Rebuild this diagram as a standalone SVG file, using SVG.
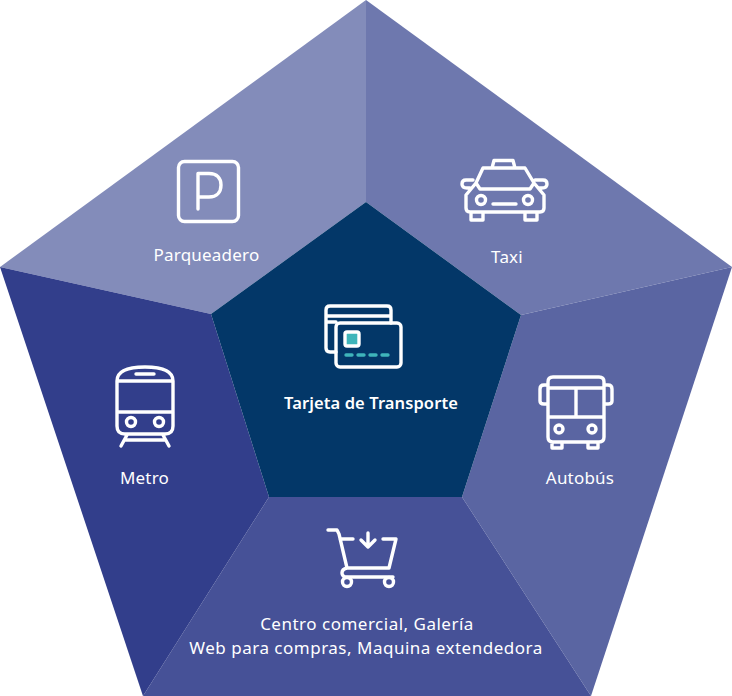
<svg xmlns="http://www.w3.org/2000/svg" width="732" height="696" viewBox="0 0 732 696">
<style>
.l{font-family:"Noto Sans","Liberation Sans",sans-serif;font-size:17px;letter-spacing:.2px;fill:#fff;text-anchor:middle}
.w{letter-spacing:.5px}
.b{font-weight:600;font-size:16.500px;letter-spacing:.1px}
.i{fill:none;stroke:#fff;stroke-width:3.400;stroke-linecap:round;stroke-linejoin:round}
.t{fill:none;stroke:#3fb5ba;stroke-width:3.400;stroke-linecap:round}
</style>
<rect width="732" height="696" fill="#fff"/>
<g id="parqueadero">
<polygon points="366,0 0,267 211,314 366,202" fill="#838cba"/>
<rect class="i" x="178.500" y="161.500" width="60" height="60" rx="6"/>
<path class="i" d="M198 209V173.500H209C217 173.500 221 178 221 185C221 192 217 197 209 197H198"/>
<text class="l" x="206.500" y="261">Parqueadero</text>
</g>
<g id="taxi">
<polygon points="366,0 732,267 521,315 366,202" fill="#6e78ae"/>
<path class="i" d="M492 168L494 160.500H513L515 168M483 168H525L534 183L530 189H480L476 183ZM476 183L466 195V208Q466 212 470 212H540Q544 212 544 208V195L534 183M473 180H466Q462 180 462 184Q462 188 467 188H470M535 180H543Q547 180 547 184Q547 188 542 188H539M493 204H516M471 212V220H483V212M525 212V220H537V212"/>
<circle class="i" cx="481" cy="200" r="4.500"/>
<circle class="i" cx="528" cy="200" r="4.500"/>
<text class="l" x="507" y="263">Taxi</text>
</g>
<g id="autobus">
<polygon points="732,267 591,696 462,497 521,315" fill="#5a65a2"/>
<path class="i" d="M553 377H599Q604 377 604 382V437Q604 442 599 442H553Q548 442 548 437V382Q548 377 553 377ZM548 388H604M548 417H604M576 388V417M548 385H544Q540 385 540 389V401Q540 404 544 404H548M604 385H608Q612 385 612 389V401Q612 404 608 404H604M552 442V448H562V442M588 442V448H598V442"/>
<circle class="i" cx="559" cy="429" r="4"/>
<circle class="i" cx="592" cy="429" r="4"/>
<text class="l" x="580" y="484">Autobús</text>
</g>
<g id="centro-comercial">
<polygon points="591,696 143,696 269,497 462,497" fill="#465197"/>
<path class="i" d="M328 530H337L339 534L347 568H389L396 539H383M340 539H353M347 568Q342 569 342 573Q342 577 347 577H393M368 533V547M361 540L368 547L375 540"/>
<circle class="i" cx="347" cy="582" r="4.500"/>
<circle class="i" cx="389" cy="582" r="4.500"/>
<text class="l w" x="367" y="630">Centro comercial, Galería</text>
<text class="l w" x="366" y="654">Web para compras, Maquina extendedora</text>
</g>
<g id="metro">
<polygon points="0,267 143,696 269,497 211,314" fill="#323e8b"/>
<path class="i" d="M117 381Q117 367 145 367Q173 367 173 381V426Q173 434 165 434H125Q117 434 117 426ZM117 381H173M117 412H173M136 374H154M127 435L121 446M163 435L169 446M125 440H165"/>
<circle class="i" cx="131" cy="422" r="4.500"/>
<circle class="i" cx="159" cy="422" r="4.500"/>
<text class="l" x="144.500" y="484">Metro</text>
</g>
<g id="tarjeta">
<polygon points="366,202 521,315 462,497 269,497 211,314" fill="#033768"/>
<path class="i" d="M336 352H330Q326 352 326 348V310Q326 306 330 306H387Q391 306 391 310V323M326 316H391M326 322H336"/>
<rect class="i" x="336" y="323" width="65" height="44" rx="4"/>
<rect x="345" y="332" width="14" height="14" rx="2" fill="#3fb5ba" stroke="#fff" stroke-width="3.400"/>
<path class="t" d="M346 355H352M358 355H364M370 355H376M382 355H388"/>
<text class="l b" x="371" y="409">Tarjeta de Transporte</text>
</g>
<g id="connectors"></g>
</svg>
